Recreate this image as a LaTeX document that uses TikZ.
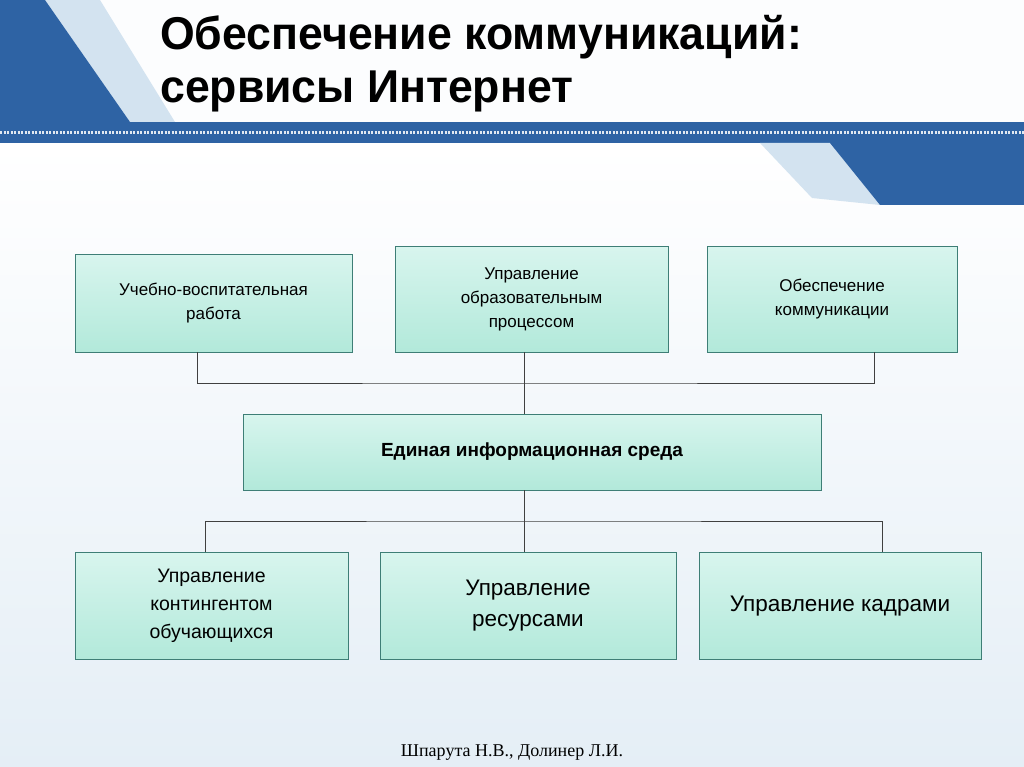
\documentclass[tikz,border=0pt]{standalone}
\usepackage{fontspec}
\setmainfont{Liberation Sans}
\newfontfamily\seriff{Liberation Serif}
\definecolor{hdblue}{HTML}{2E63A4}
\definecolor{hdlight}{HTML}{D3E3F0}
\definecolor{mintA}{HTML}{D8F5EE}
\definecolor{mintB}{HTML}{B2E9DA}
\definecolor{bord}{HTML}{3E7E76}
\begin{document}
\begin{tikzpicture}[x=1pt,y=-1pt,
 bx/.style={draw=bord,line width=0.9pt,top color=mintA,bottom color=mintB,inner sep=0pt},
 ln/.style={draw=black!75,line width=0.8pt}]
\useasboundingbox (0,0) rectangle (1024,767);
\fill[top color=white,bottom color=hdlight!60] (0,145) rectangle (1024,767);
\fill[white!94!hdlight] (0,0) rectangle (1024,122);
% header shapes
\fill[hdlight] (45,0) -- (100,0) -- (175,122) -- (130,122) -- cycle;
\fill[hdblue] (0,0) -- (45,0) -- (130,122) -- (0,122) -- cycle;
\fill[hdblue] (0,122) rectangle (1024,143);
\draw[white!85!hdblue,line width=3pt,dash pattern=on 2pt off 1.5pt] (0,133) -- (1024,133);
\fill[hdlight] (760,143) -- (830,143) -- (880,205) -- (812,198) -- cycle;
\fill[hdblue] (830,143) -- (1024,143) -- (1024,205) -- (880,205) -- cycle;
\node[anchor=base west,inner sep=0pt,font=\bfseries\fontsize{46}{46}\selectfont] (t1) at (160,50) {\scalebox{0.97}[1]{Обеспечение коммуникаций:}};
\node[anchor=base west,inner sep=0pt,font=\bfseries\fontsize{46}{46}\selectfont] (t2) at (160,103) {\scalebox{0.97}[1]{сервисы Интернет}};
% boxes
\node[bx,minimum width=277pt,minimum height=98pt,align=center,font=\fontsize{17}{24}\selectfont] (A) at (213.5,303) {Учебно-воспитательная\\работа};
\node[bx,minimum width=273pt,minimum height=106pt,align=center,font=\fontsize{17}{24}\selectfont] (B) at (531.5,299) {Управление\\образовательным\\процессом};
\node[bx,minimum width=250pt,minimum height=106pt,align=center,font=\fontsize{17}{24}\selectfont] (C) at (832,299) {Обеспечение\\коммуникации};
\node[bx,minimum width=578pt,minimum height=76pt,font=\bfseries\fontsize{19}{22}\selectfont] (D) at (532,452) {Единая информационная среда};
\node[bx,minimum width=273pt,minimum height=107pt,align=center,font=\fontsize{19.5}{28}\selectfont] (E) at (211.5,606) {Управление\\контингентом\\обучающихся};
\node[bx,minimum width=296pt,minimum height=107pt,align=center,font=\fontsize{22.5}{31}\selectfont] (F) at (528,606) {Управление\\ресурсами};
\node[bx,minimum width=282pt,minimum height=107pt,font=\fontsize{22.5}{26}\selectfont] (G) at (840,606) {Управление кадрами};
% connectors
\coordinate (u) at (524,383);
\coordinate (l) at (524,521);
\draw[ln] (A.south -| 197,0) |- (u) -| (C.south -| 874,0);
\draw[ln] (B.south -| u) -- (D.north -| u);
\draw[ln] (D.south -| l) -- (F.north -| l);
\draw[ln] (E.north -| 205,0) |- (l) -| (G.north -| 882,0);
\node[font=\seriff\fontsize{18}{18}\selectfont] (ft) at (512,753) {Шпарута Н.В., Долинер Л.И.};
\end{tikzpicture}
\end{document}
